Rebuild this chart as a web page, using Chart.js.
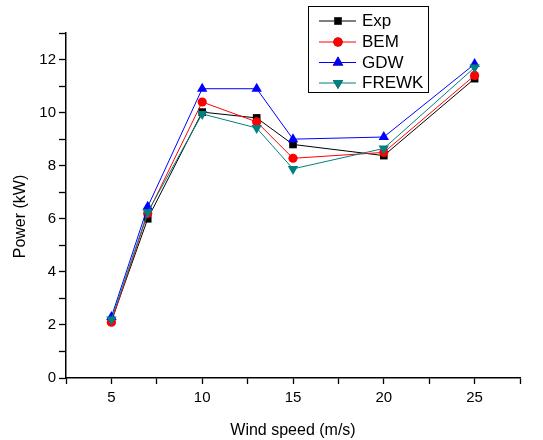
<!DOCTYPE html>
<html>
<head>
<meta charset="utf-8">
<script src="https://cdn.jsdelivr.net/npm/chart.js@4/dist/chart.umd.min.js"></script>
<style>
  html, body { margin: 0; padding: 0; background: #ffffff; }
  #wrap { width: 543px; height: 440px; }
</style>
</head>
<body>
<div id="wrap"><canvas id="c" width="543" height="440"></canvas></div>
<script>
// Wind speeds (m/s) and measured / predicted power (kW)
const windSpeed = [5, 7, 10, 13, 15, 20, 25];
const expPower   = [2.15, 6.0, 10.02, 9.8, 8.8, 8.38, 11.28];
const bemPower   = [2.1, 6.2, 10.4, 9.65, 8.28, 8.5, 11.4];
const gdwPower   = [2.3, 6.45, 10.9, 10.9, 9.0, 9.08, 11.83];
const frewkPower = [2.2, 6.25, 9.95, 9.42, 7.88, 8.65, 11.7];
const seriesNames = ['Exp', 'BEM', 'GDW', 'FREWK'];
const yTitle = 'Power (kW)';
const xTitle = 'Wind speed (m/s)';

const FONT = 'Arial, "Liberation Sans", sans-serif';

function pts(vals) {
  return windSpeed.map((x, i) => ({ x: x, y: vals[i] }));
}

function makeSet(name, vals, color, style, radius, rotation, order) {
  return {
    label: name,
    data: pts(vals),
    borderColor: color,
    backgroundColor: color,
    borderWidth: 1,
    pointStyle: style,
    pointRadius: radius,
    pointRotation: rotation,
    pointBorderWidth: 0,
    pointBackgroundColor: color,
    pointHoverRadius: radius,
    tension: 0,
    order: order
  };
}

// Boxed legend drawn inside the plot, using each dataset's own styling
const boxedLegend = {
  id: 'boxedLegend',
  afterDraw(chart) {
    const ctx = chart.ctx;
    const x0 = 308, y0 = 6, w = 120, h = 86;
    ctx.save();
    ctx.fillStyle = '#ffffff';
    ctx.fillRect(x0, y0, w, h);
    ctx.strokeStyle = '#000000';
    ctx.lineWidth = 1;
    ctx.strokeRect(x0 + 0.5, y0 + 0.5, w, h);
    const rows = [20.5, 41.5, 62, 82.5];
    chart.data.datasets.forEach((ds, i) => {
      const yy = rows[i];
      ctx.strokeStyle = ds.borderColor;
      ctx.lineWidth = 1;
      ctx.beginPath();
      ctx.moveTo(319, yy + 0.5);
      ctx.lineTo(356, yy + 0.5);
      ctx.stroke();
      Chart.helpers.drawPoint(ctx, {
        pointStyle: ds.pointStyle,
        radius: ds.pointRadius,
        rotation: ds.pointRotation,
        borderWidth: 0
      }, 338, yy + 0.5);
      ctx.fillStyle = ds.borderColor;
      ctx.fill();
      ctx.fillStyle = '#000000';
      ctx.font = '17px ' + FONT;
      ctx.textBaseline = 'middle';
      ctx.textAlign = 'left';
      ctx.fillText(ds.label, 362, yy + 1);
    });
    ctx.restore();
  }
};

// Vertical axis title, placed beside the tick labels
const sideTitle = {
  id: 'sideTitle',
  afterDraw(chart) {
    const ctx = chart.ctx;
    const area = chart.chartArea;
    ctx.save();
    ctx.translate(21, (area.top + area.bottom) / 2 + 11);
    ctx.rotate(-Math.PI / 2);
    ctx.fillStyle = '#000000';
    ctx.font = '16px ' + FONT;
    ctx.textAlign = 'center';
    ctx.textBaseline = 'middle';
    ctx.fillText(yTitle, 0, 0);
    ctx.restore();
  }
};

new Chart(document.getElementById('c'), {
  type: 'line',
  data: {
    datasets: [
      makeSet(seriesNames[0], expPower, '#000000', 'rect', 5.4, 0, 4),
      makeSet(seriesNames[1], bemPower, '#ff0000', 'circle', 4.6, 0, 3),
      makeSet(seriesNames[2], gdwPower, '#0000ff', 'triangle', 6, 0, 2),
      makeSet(seriesNames[3], frewkPower, '#008080', 'triangle', 6, 180, 1)
    ]
  },
  options: {
    responsive: false,
    animation: false,
    events: [],
    layout: { padding: { top: 33, right: 23, left: 0, bottom: 0 } },
    plugins: { legend: { display: false }, tooltip: { enabled: false } },
    scales: {
      x: {
        type: 'linear',
        min: 2.5,
        max: 27.5,
        afterFit(scale) { scale.height = 62; },
        border: { display: true, color: '#000000', width: 1.5 },
        grid: { drawOnChartArea: false, drawTicks: true, tickLength: 6, tickColor: '#000000', tickWidth: 1.3 },
        ticks: {
          stepSize: 2.5,
          autoSkip: false,
          maxRotation: 0,
          color: '#000000',
          padding: 5,
          font: { family: FONT, size: 15 },
          callback: (v) => (v % 5 === 0 ? String(v) : '')
        },
        title: {
          display: true,
          text: xTitle,
          color: '#000000',
          font: { family: FONT, size: 16 },
          padding: { top: 4, bottom: 0 }
        }
      },
      y: {
        min: 0,
        max: 13,
        afterFit(scale) { scale.width = 66; },
        border: { display: true, color: '#000000', width: 1.5 },
        grid: { drawOnChartArea: false, drawTicks: true, tickLength: 7, tickColor: '#000000', tickWidth: 1.3 },
        ticks: {
          stepSize: 1,
          autoSkip: false,
          color: '#000000',
          padding: 3,
          font: { family: FONT, size: 15 },
          callback: (v) => (v % 2 === 0 ? String(v) : '')
        },
        title: { display: false }
      }
    }
  },
  plugins: [boxedLegend, sideTitle]
});
</script>
</body>
</html>
